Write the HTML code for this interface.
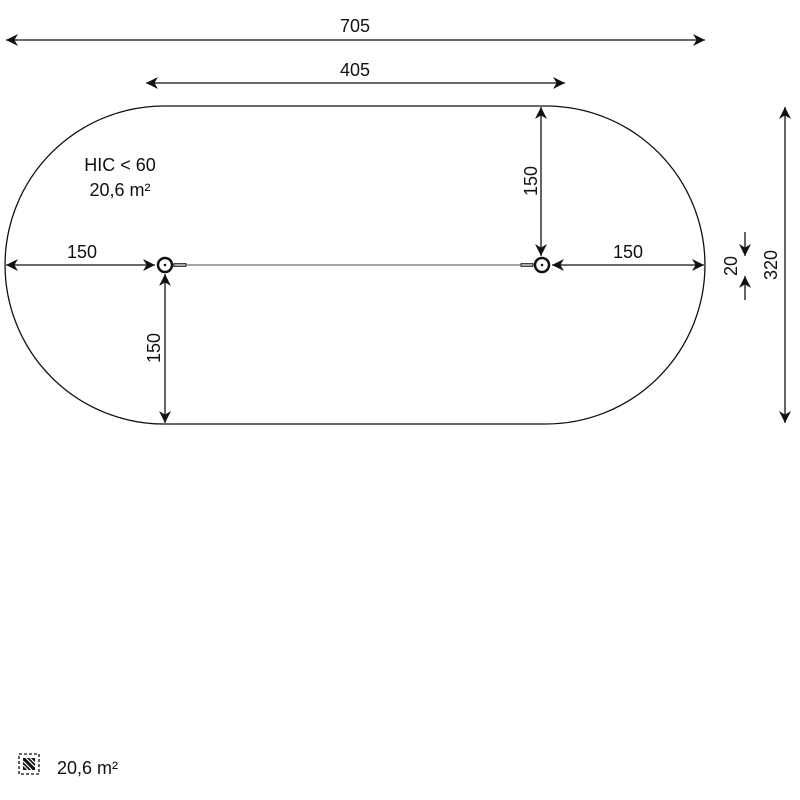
<!DOCTYPE html><html><head><style>body{margin:0;background:#fff}svg{display:block}text{font-family:"Liberation Sans",sans-serif;font-size:18px;fill:#111}</style></head><body>
<svg width="800" height="800" viewBox="0 0 800 800" xmlns="http://www.w3.org/2000/svg">
<defs><marker id="a" viewBox="0 0 10 10" refX="10" refY="5" markerWidth="12" markerHeight="12" markerUnits="userSpaceOnUse" orient="auto-start-reverse"><path d="M0,0L10,5L0,10L3,5z" fill="#111"/></marker></defs>
<g stroke="#111" stroke-width="1.3" fill="none">
<path d="M164,106H546A159,159 0 0 1 546,424H164A159,159 0 0 1 164,106Z"/>
<line x1="6" y1="40" x2="705" y2="40" marker-start="url(#a)" marker-end="url(#a)"/>
<line x1="146" y1="83" x2="565" y2="83" marker-start="url(#a)" marker-end="url(#a)"/>
<line x1="785" y1="107" x2="785" y2="423" marker-start="url(#a)" marker-end="url(#a)"/>
<line x1="541" y1="107" x2="541" y2="256" marker-start="url(#a)" marker-end="url(#a)"/>
<line x1="165" y1="274" x2="165" y2="423" marker-start="url(#a)" marker-end="url(#a)"/>
<line x1="6" y1="265" x2="155" y2="265" marker-start="url(#a)" marker-end="url(#a)"/>
<line x1="552" y1="265" x2="704" y2="265" marker-start="url(#a)" marker-end="url(#a)"/>
<line x1="745" y1="232" x2="745" y2="256" marker-end="url(#a)"/>
<line x1="745" y1="300" x2="745" y2="276" marker-end="url(#a)"/>
<line x1="173" y1="265" x2="534" y2="265" stroke-width="0.8"/>
<rect x="174" y="263.5" width="12" height="3" stroke-width="0.8"/><rect x="521" y="263.5" width="12" height="3" stroke-width="0.8"/>
<circle cx="165" cy="265" r="7" stroke-width="2.5"/><circle cx="542" cy="265" r="7" stroke-width="2.5"/>
<rect x="19" y="754" width="20" height="20" stroke-dasharray="3,2"/>
</g>
<circle cx="165" cy="265" r="1.3" fill="#111"/><circle cx="542" cy="265" r="1.3" fill="#111"/>
<rect x="23" y="758" width="12" height="12" fill="#111"/>
<g stroke="#fff" stroke-width="1.2"><line x1="23" y1="761" x2="32" y2="770"/><line x1="23" y1="765" x2="28" y2="770"/><line x1="26" y1="758" x2="35" y2="767"/><line x1="30" y1="758" x2="35" y2="763"/></g>
<text x="355" y="32" text-anchor="middle">705</text>
<text x="355" y="76" text-anchor="middle">405</text>
<text x="82" y="258" text-anchor="middle">150</text>
<text x="628" y="258" text-anchor="middle">150</text>
<text x="120" y="171" text-anchor="middle">HIC &lt; 60</text>
<text x="120" y="196" text-anchor="middle">20,6 m²</text>
<text transform="translate(537,181) rotate(-90)" text-anchor="middle">150</text>
<text transform="translate(160,348) rotate(-90)" text-anchor="middle">150</text>
<text transform="translate(777,265) rotate(-90)" text-anchor="middle">320</text>
<text transform="translate(737,266) rotate(-90)" text-anchor="middle">20</text>
<text x="57" y="774">20,6 m²</text>
</svg></body></html>
